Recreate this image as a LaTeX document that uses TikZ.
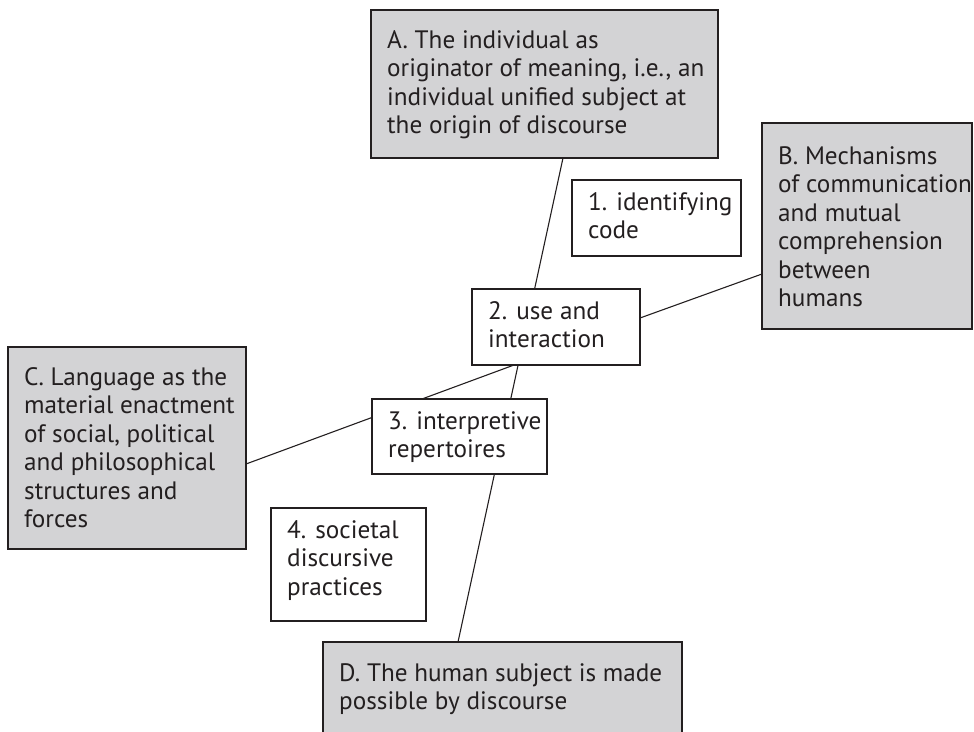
\documentclass[tikz,border=0pt]{standalone}
\usepackage{fontspec}
\setmainfont{PT Sans}
\usetikzlibrary{backgrounds}
\definecolor{boxgray}{RGB}{211,211,213}
\definecolor{ink}{RGB}{35,31,32}
\tikzset{
  frame/.style={draw=ink, line width=1.2pt, anchor=north west, inner sep=0pt, outer sep=0pt},
  graybox/.style={frame, fill=boxgray},
  whitebox/.style={frame, fill=white},
  label/.style={anchor=north west, inner sep=0pt, align=left, text=ink,
    font=\fontsize{25.2}{28.5}\selectfont},
  link/.style={draw=ink, line width=1.1pt}
}
\newcommand{\firstline}{\rule{0pt}{20pt}}
\begin{document}
\begin{tikzpicture}[x=1pt,y=-1pt]
\path[use as bounding box, clip] (0,0) rectangle (974,731);

% grey boxes A-D
\node[graybox, minimum width=347pt, minimum height=148pt] (A) at (371,10) {};
\node[graybox, minimum width=210pt, minimum height=206pt] (B) at (762,123) {};
\node[graybox, minimum width=238pt, minimum height=202pt] (C) at (8,347) {};
\node[graybox, minimum width=359pt, minimum height=120pt] (D) at (323,642) {};

% white boxes 1-4
\node[whitebox, minimum width=169pt, minimum height=76pt] (n1) at (572,180) {};
\node[whitebox, minimum width=168pt, minimum height=76pt] (n2) at (472,289) {};
\node[whitebox, minimum width=175pt, minimum height=75pt] (n3) at (372,399) {};
\node[whitebox, minimum width=155pt, minimum height=113pt] (n4) at (271,508) {};

% texts (first baseline 20pt below each anchor)
\node[label] (At) at (387,28) {\firstline A. The individual as\\originator of meaning, i.e., an\\individual unified subject at\\the origin of discourse};
\node[label] (Bt) at (778,144) {\firstline B. Mechanisms\\of communication\\and mutual\\comprehension\\between\\humans};
\node[label] (Ct) at (24,365) {\firstline C. Language as the\\material enactment\\of social, political\\and philosophical\\structures and\\forces};
\node[label] (Dt) at (339,661) {\firstline D. The human subject is made\\possible by discourse};
\node[label] (n1t) at (588,190) {\firstline 1. identifying\\code};
\node[label] (n2t) at (488,299) {\firstline 2. use and\\interaction};
\node[label] (n3t) at (388,409) {\firstline 3. interpretive\\repertoires};
\node[label] (n4t) at (287,518) {\firstline 4. societal\\discursive\\practices};

% connectors, behind the boxes
\begin{scope}[on background layer]
  \draw[link] ([xshift=18.5pt]A.south) -- ([xshift=-44.5pt]D.north);
  \draw[link] ([yshift=-16pt]C.east) -- ([xshift=-42pt]n2.south);
  \draw[link] ([yshift=9pt]n2.east) -- ([yshift=-48pt]B.west);
\end{scope}
\end{tikzpicture}
\end{document}
